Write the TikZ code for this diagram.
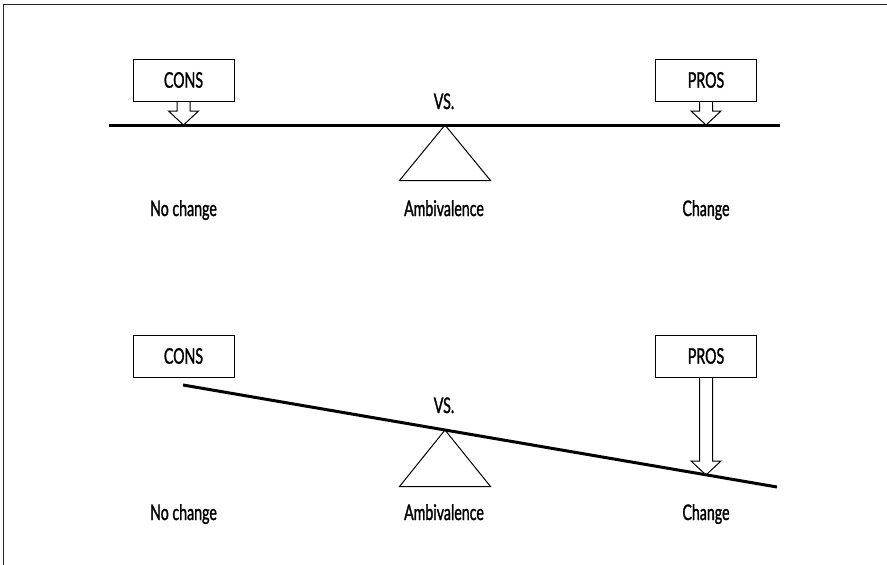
\documentclass[tikz,border=0pt]{standalone}
\usepackage{fontspec}
\setmainfont[FakeStretch=0.66,FakeBold=1.3]{Lato}
\usetikzlibrary{calc}
\newcommand{\lblfont}{\fontsize{21.5}{24}\selectfont}
\begin{document}
\begin{tikzpicture}[x=1pt,y=-1pt,
  labelbox/.style={draw, line width=1pt, minimum width=101pt, minimum height=42pt, inner sep=0pt, font=\lblfont},
  beam/.style={line width=3pt},
  fulcrum/.style={line width=1pt, line join=miter},
  arrowline/.style={line width=1pt, fill=white},
  lbl/.style={font=\lblfont, anchor=base, inner sep=0pt},
  frameline/.style={line width=1.3pt, black!85},
  pics/barrow/.style={code={\draw[arrowline] (-6.5,0) -- (-6.5,#1) -- (-15,#1) -- (0,#1+14) -- (15,#1) -- (6.5,#1) -- (6.5,0);}}]
\useasboundingbox (0,0) rectangle (887,565);
% frame
\coordinate (fbl) at (3.5,565);
\coordinate (ftl) at (3.5,4.5);
\coordinate (ftr) at (887,4.5);
\draw[frameline] (fbl) -- (ftl) -- (ftr);

% ---------- top balance ----------
\coordinate (b1l) at (109,125);
\coordinate (b1r) at (780,125);
\coordinate (piv1) at (445,125);
\draw[fulcrum] (piv1) -- ++(-45.5,55.5) -- ++(91,0) -- cycle;
\pic at (183.5,101) {barrow=10};
\pic at (706,101) {barrow=10};
\draw[beam] (b1l) -- (b1r);
\node[labelbox] (cons1) at (183.5,80) {CONS};
\node[labelbox] (pros1) at (706,80) {PROS};
\node[lbl] (vs1) at (444,109) {VS.};
\node[lbl] (nc1) at (183.5,216) {No change};
\node[lbl] (am1) at (444,216) {Ambivalence};
\node[lbl] (ch1) at (706,216) {Change};

% ---------- bottom balance ----------
\coordinate (b2l) at (183,385);
\coordinate (b2r) at (777,487);
\coordinate (piv2) at (445,430);
\draw[fulcrum] (piv2) -- ++(-45.5,56.5) -- ++(91,0) -- cycle;
\pic at (706,377) {barrow=84};
\draw[beam] (b2l) -- (b2r);
\node[labelbox] (cons2) at (183.5,356) {CONS};
\node[labelbox] (pros2) at (706,356) {PROS};
\node[lbl] (vs2) at (444,413) {VS.};
\node[lbl] (nc2) at (183.5,520) {No change};
\node[lbl] (am2) at (444,520) {Ambivalence};
\node[lbl] (ch2) at (706,520) {Change};
\end{tikzpicture}
\end{document}
